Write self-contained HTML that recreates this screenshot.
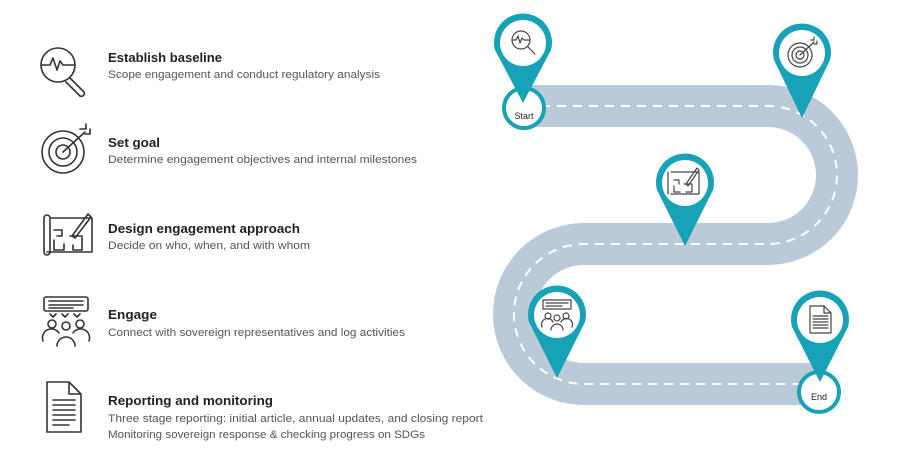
<!DOCTYPE html>
<html><head><meta charset="utf-8"><style>
html,body{margin:0;padding:0;background:#fff;}
svg{display:block}
.t{font-family:"Liberation Sans",sans-serif;font-weight:bold;font-size:13px;fill:#222}
.d{font-family:"Liberation Sans",sans-serif;font-size:11px;fill:#555}
.ic{fill:none;stroke:#333;stroke-width:1.6;stroke-linecap:round;stroke-linejoin:round}
.ii{fill:none;stroke:#444;stroke-width:1.2;stroke-linecap:round;stroke-linejoin:round}
</style></head><body>
<svg width="908" height="453" viewBox="0 0 908 453">
<!-- left text -->
<text class="t" x="108" y="62" textLength="114" lengthAdjust="spacingAndGlyphs">Establish baseline</text>
<text class="d" x="108" y="78" textLength="272" lengthAdjust="spacingAndGlyphs">Scope engagement and conduct regulatory analysis</text>
<text class="t" x="108" y="147" textLength="52" lengthAdjust="spacingAndGlyphs">Set goal</text>
<text class="d" x="108" y="163" textLength="309" lengthAdjust="spacingAndGlyphs">Determine engagement objectives and internal milestones</text>
<text class="t" x="108" y="233" textLength="192" lengthAdjust="spacingAndGlyphs">Design engagement approach</text>
<text class="d" x="108" y="249" textLength="202" lengthAdjust="spacingAndGlyphs">Decide on who, when, and with whom</text>
<text class="t" x="108" y="319" textLength="49" lengthAdjust="spacingAndGlyphs">Engage</text>
<text class="d" x="108" y="336" textLength="297" lengthAdjust="spacingAndGlyphs">Connect with sovereign representatives and log activities</text>
<text class="t" x="108" y="405" textLength="165" lengthAdjust="spacingAndGlyphs">Reporting and monitoring</text>
<text class="d" x="108" y="422" textLength="375" lengthAdjust="spacingAndGlyphs">Three stage reporting: initial article, annual updates, and closing report</text>
<text class="d" x="108" y="438" textLength="317" lengthAdjust="spacingAndGlyphs">Monitoring sovereign response &amp; checking progress on SDGs</text>

<!-- left icons -->
<g class="ic">
 <circle cx="58" cy="65" r="17"/>
 <path d="M42 65 h8 l3 -7 l4 12 l3 -9 l3 4 h12"/>
 <path d="M70 78 l14 14 a3 3 0 0 1 -4 4 l-14 -14"/>
</g>
<g class="ic">
 <circle cx="63" cy="152" r="21"/><circle cx="63" cy="152" r="14"/><circle cx="63" cy="152" r="7"/>
 <path d="M63 152 L85 132"/><path d="M80 129 l6 0 l0 -5 M85 134 l5 0 l0 -5"/>
</g>
<g class="ic">
 <path d="M44 218 v34 M44 218 a3 3 0 0 1 6 0 v34 a3 3 0 0 1 -6 0 M47 252 h45 v-34 h-42"/>
 <path d="M54 230 h8 v6 h-5 M54 240 v10 h10 v-6 M70 236 h12 v14 h-9 v-5"/>
 <path d="M72 236 L88 214 l3 3 L75 238 z"/>
</g>
<g class="ic">
 <rect x="44" y="297" width="44" height="14" rx="2"/>
 <path d="M49 301 h34 M49 305 h34 M49 308 h24"/>
 <path d="M50 314 l3 3 l3 -3 M62 314 l3 3 l3 -3 M74 314 l3 3 l3 -3"/>
 <circle cx="52" cy="324" r="4"/><circle cx="66" cy="326" r="4"/><circle cx="80" cy="324" r="4"/>
 <path d="M43 341 a9 9 0 0 1 16 -8 M57 346 a9 9 0 0 1 18 0 M73 333 a9 9 0 0 1 16 8"/>
</g>
<g class="ic">
 <path d="M47 382 h22 l12 12 v38 h-34 z M69 382 v12 h12"/>
 <path d="M53 400 h22 M53 405 h22 M53 410 h22 M53 415 h22 M53 420 h22 M53 425 h16"/>
</g>

<!-- road -->
<path d="M525 106 H768 A69 69 0 0 1 768 244 H584 A70 70 0 0 0 584 384 H819" fill="none" stroke="#bacad8" stroke-width="42"/>
<path d="M525 106 H768 A69 69 0 0 1 768 244 H584 A70 70 0 0 0 584 384 H819" fill="none" stroke="#fff" stroke-width="2" stroke-dasharray="9 7"/>

<!-- start/end circles -->
<circle cx="524" cy="108" r="20" fill="#fff" stroke="#17a2b8" stroke-width="4"/>
<text x="524" y="119" text-anchor="middle" font-family="Liberation Sans,sans-serif" font-size="9" fill="#222">Start</text>
<circle cx="819" cy="392" r="20" fill="#fff" stroke="#17a2b8" stroke-width="4"/>
<text x="819" y="400" text-anchor="middle" font-family="Liberation Sans,sans-serif" font-size="9" fill="#222">End</text>

<!-- pins -->
<g fill="#17a2b8">
 <path d="M495 50 A29 29 0 1 1 551 50 L523 103 Z"/>
 <path d="M774 60 A29 29 0 1 1 830 60 L802 118 Z"/>
 <path d="M657 190 A29 29 0 1 1 713 190 L685 246 Z"/>
 <path d="M529 322 A29 29 0 1 1 585 322 L557 378 Z"/>
 <path d="M792 327 A29 29 0 1 1 848 327 L820 382 Z"/>
</g>
<g fill="#fff">
 <circle cx="523" cy="43" r="23"/>
 <circle cx="802" cy="53" r="23"/>
 <circle cx="685" cy="183" r="23"/>
 <circle cx="557" cy="315" r="23"/>
 <circle cx="820" cy="320" r="23"/>
</g>
<!-- pin icons -->
<g class="ii">
 <circle cx="521" cy="40" r="9"/><path d="M512 40 h4 l2 -4 l2 7 l2 -5 l2 2 h6"/><path d="M528 47 l7 7"/>
</g>
<g class="ii">
 <circle cx="800" cy="55" r="12"/><circle cx="800" cy="55" r="8"/><circle cx="800" cy="55" r="4"/>
 <path d="M800 55 L814 42 M811 40 l3 0 0 -3 M814 44 l3 0 0 -3"/>
</g>
<g class="ii">
 <path d="M668 172 v22 M671 194 h28 v-22 h-28"/><path d="M674 180 h5 v4 M674 186 v6 h6 M684 184 h8 v8 h-6"/><path d="M686 184 L697 168 l2 2 L688 186 z"/>
</g>
<g class="ii">
 <rect x="543" y="300" width="28" height="9"/><path d="M546 303 h22 M546 306 h16"/>
 <circle cx="548" cy="316" r="3"/><circle cx="557" cy="318" r="3"/><circle cx="566" cy="316" r="3"/>
 <path d="M542 327 a6 6 0 0 1 11 -5 M551 330 a6 6 0 0 1 12 0 M561 322 a6 6 0 0 1 11 5"/>
</g>
<g class="ii">
 <path d="M810 306 h14 l7 7 v20 h-21 z M824 306 v7 h7"/><path d="M813 316 h15 M813 319 h15 M813 322 h15 M813 325 h15 M813 328 h15"/>
</g>
</svg>
</body></html>
